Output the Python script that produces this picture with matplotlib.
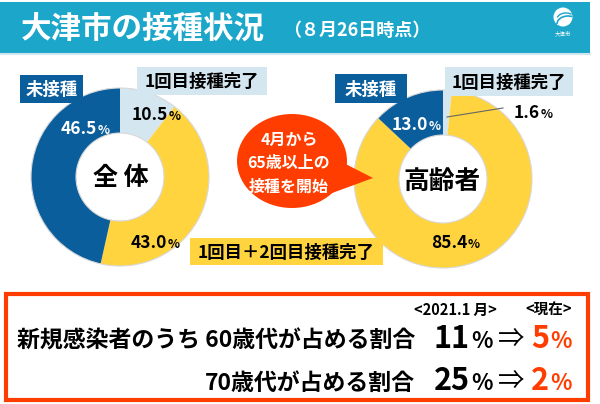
import matplotlib
matplotlib.use("Agg")
import matplotlib.pyplot as plt
from matplotlib.patches import Rectangle, Ellipse, Polygon, Circle, Arc

plt.rcParams["font.family"] = ["Noto Sans CJK JP", "DejaVu Sans"]
plt.rcParams["font.weight"] = "bold"

TEAL, NAVY, YELLOW, PALE, RED = "#1BA6CA", "#0B5E9C", "#FFD43E", "#D4E6F0", "#FF3D00"

# donut data: order is clockwise from 12 o'clock
SEGMENTS = ["1回目接種完了", "1回目＋2回目接種完了", "未接種"]
ALL_SHARE = [10.5, 43.0, 46.5]
SENIOR_SHARE = [1.6, 85.4, 13.0]
SEG_COLORS = [PALE, YELLOW, NAVY]

AGE_ROWS = ["新規感染者のうち 60歳代が占める割合", "70歳代が占める割合"]
JAN_2021 = [11, 25]
NOW = [5, 2]

fig = plt.figure(figsize=(6.0, 4.04), dpi=100)
ax = fig.add_axes([0, 0, 1, 1])


def donut(vals, cx, cy):
    # y axis gets flipped below, so counterclock + start -90 reads clockwise from top
    ax.pie(vals, colors=SEG_COLORS, center=(cx, cy), radius=89, startangle=-90,
           counterclock=True, wedgeprops=dict(width=45, linewidth=0))
    ax.add_patch(Circle((cx, cy), 89, fill=False, edgecolor="#d8d8d8", lw=0.8))
    ax.add_patch(Circle((cx, cy), 44, fill=False, edgecolor="#d8d8d8", lw=0.8))


def pct(x, y, v, color, size=12.5):
    ax.text(x, y, f"{v:.1f}", ha="right", va="baseline", color=color, fontsize=size)
    ax.text(x + 0.5, y, "%", ha="left", va="baseline", color=color, fontsize=size * 0.72)


def tag(x0, y0, x1, y1, text, bg, fg):
    ax.add_patch(Rectangle((x0, y0), x1 - x0, y1 - y0, facecolor=bg, edgecolor="none", zorder=3))
    ax.text((x0 + x1) / 2, (y0 + y1) / 2 + 1, text, ha="center", va="center",
            color=fg, fontsize=12.5, zorder=4)


donut(ALL_SHARE, 120, 177)
donut(SENIOR_SHARE, 443, 179)

# header
ax.add_patch(Rectangle((0, 2), 590, 51, facecolor=TEAL, edgecolor="none"))
ax.plot([0, 590], [54, 54], color="#cfe6ee", lw=1.5)
ax.text(21, 29, "大津市の接種状況", ha="left", va="center", color="white", fontsize=22)
ax.text(283, 30, "（８月26日時点）", ha="left", va="center", color="white", fontsize=13)
ax.add_patch(Circle((563, 17), 9.5, facecolor="white", edgecolor="none"))
ax.add_patch(Arc((568, 24), 22, 16, theta1=180, theta2=300, color=TEAL, lw=1.2))
ax.add_patch(Arc((566, 19), 18, 12, theta1=190, theta2=320, color=TEAL, lw=1.0))
ax.text(563, 33, "大津市", ha="center", va="center", color="white", fontsize=4,
        fontweight="normal")

# segment tags
tag(20, 75, 83, 103, SEGMENTS[2], NAVY, "white")
tag(137, 67, 267, 95, SEGMENTS[0], PALE, "black")
tag(335, 74, 407, 103, SEGMENTS[2], NAVY, "white")
tag(445, 67, 573, 96, SEGMENTS[0], PALE, "black")
tag(190, 238, 383, 265, SEGMENTS[1], YELLOW, "black")

# percent labels
pct(97, 134, ALL_SHARE[2], "white")
pct(168, 120, ALL_SHARE[0], "black")
pct(167, 248, ALL_SHARE[1], "black")
pct(428, 130, SENIOR_SHARE[2], "white")
pct(540, 118, SENIOR_SHARE[0], "black")
pct(467, 248, SENIOR_SHARE[1], "black")
ax.plot([447, 503], [117, 108], color="#666666", lw=0.8)

ax.text(121, 178, "全 体", ha="center", va="center", fontsize=18)
ax.text(442, 181, "高齢者", ha="center", va="center", fontsize=18.5)

# speech bubble
ax.add_patch(Polygon([(330, 156), (373, 178), (324, 196)], closed=True,
                     facecolor=RED, edgecolor="none", zorder=3))
ax.add_patch(Ellipse((292, 161), 110, 94, facecolor=RED, edgecolor="none", zorder=3))
for yy, line in zip([140, 163, 187], ["4月から", "65歳以上の", "接種を開始"]):
    ax.text(289, yy, line, ha="center", va="center", color="white", fontsize=11.5, zorder=4)

# bottom box
ax.add_patch(Rectangle((6, 294), 582, 106, facecolor="white", edgecolor=RED, lw=3))
ax.text(455, 310, "<2021.1 月>", ha="center", va="center", fontsize=10.5)
ax.text(549, 310, "<現在>", ha="center", va="center", fontsize=10.5)
for yy, label, a, b in zip([348, 390], AGE_ROWS, JAN_2021, NOW):
    ax.text(415, yy, label, ha="right", va="baseline", fontsize=16.5)
    ax.text(470, yy, f"{a}", ha="right", va="baseline", fontsize=22)
    ax.text(471, yy, "%", ha="left", va="baseline", fontsize=16)
    ax.text(511, yy - 1, "⇒", ha="center", va="baseline", fontsize=19, fontweight="normal")
    ax.text(549, yy, f"{b}", ha="right", va="baseline", fontsize=22, color=RED)
    ax.text(550, yy, "%", ha="left", va="baseline", fontsize=16, color=RED)

ax.set_xlim(0, 600)
ax.set_ylim(404, 0)
ax.set_aspect("equal")
ax.axis("off")
ax.set_position([0, 0, 1, 1])
fig.savefig("out.png", dpi=100, facecolor="white")
